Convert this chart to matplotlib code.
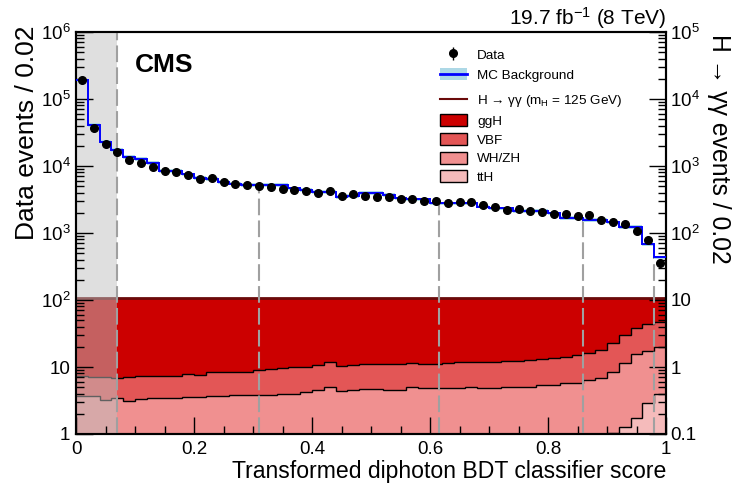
import numpy as np
import matplotlib
matplotlib.use('Agg')
import matplotlib.pyplot as plt
from matplotlib.patches import Patch
from matplotlib.lines import Line2D
from matplotlib.legend_handler import HandlerTuple
from matplotlib.ticker import MultipleLocator, FuncFormatter, NullFormatter, LogLocator, FixedLocator

plt.rcParams['font.family'] = ['Liberation Sans', 'DejaVu Sans']
plt.rcParams['mathtext.fontset'] = 'custom'
plt.rcParams['mathtext.rm'] = 'Liberation Sans'
plt.rcParams['mathtext.it'] = 'Liberation Sans:italic'
plt.rcParams['mathtext.bf'] = 'Liberation Sans:bold'

# 50 bins of 0.02 in the transformed BDT score
edges = np.linspace(0, 1, 51)
centers = 0.5 * (edges[1:] + edges[:-1])

# data events / 0.02 (left axis)
data = [1.9e5, 3.73e4, 2.13e4, 1.62e4, 1.23e4, 1.12e4, 9.8e3, 8.5e3, 8.06e3, 7.26e3,
        6.4e3, 6.55e3, 5.83e3, 5.45e3, 5.15e3, 5.08e3, 4.9e3, 4.54e3, 4.34e3, 4.24e3,
        3.92e3, 4.28e3, 3.6e3, 3.78e3, 3.6e3, 3.45e3, 3.45e3, 3.22e3, 3.25e3, 3.03e3,
        3.03e3, 2.83e3, 2.87e3, 2.93e3, 2.62e3, 2.42e3, 2.23e3, 2.26e3, 2.13e3, 2.08e3,
        1.92e3, 1.9e3, 1.77e3, 1.84e3, 1.58e3, 1.46e3, 1.36e3, 1.06e3, 790, 357]

# MC background / 0.02 (left axis)
mc_bkg = [1.9e5, 4.1e4, 2.3e4, 1.73e4, 1.36e4, 1.28e4, 1.12e4, 8.5e3, 8.5e3, 7.5e3,
          6.6e3, 6.4e3, 5.8e3, 5.45e3, 5.2e3, 5.2e3, 5.2e3, 5.2e3, 4.65e3, 4.38e3,
          4.09e3, 4.09e3, 3.48e3, 3.6e3, 3.99e3, 3.99e3, 3.69e3, 3.3e3, 3.19e3, 3.19e3,
          2.77e3, 2.77e3, 2.77e3, 2.77e3, 2.47e3, 2.33e3, 2.33e3, 2.13e3, 2.13e3, 2.13e3,
          1.97e3, 1.69e3, 1.69e3, 1.56e3, 1.56e3, 1.44e3, 1.24e3, 1.24e3, 678, 434]
mc_rel_unc = 0.06

# H->gg signal, stacked levels in events / 0.02 (right axis)
stack_tth = [0.02, 0.02, 0.02, 0.02, 0.02, 0.02, 0.02, 0.02, 0.02, 0.02,
             0.02, 0.02, 0.02, 0.02, 0.02, 0.02, 0.02, 0.02, 0.02, 0.02,
             0.02, 0.02, 0.02, 0.02, 0.02, 0.03, 0.03, 0.03, 0.03, 0.03,
             0.03, 0.03, 0.03, 0.03, 0.04, 0.04, 0.04, 0.04, 0.05, 0.05,
             0.05, 0.06, 0.06, 0.07, 0.08, 0.102, 0.129, 0.175, 0.287, 0.40]
stack_vh = [0.37, 0.37, 0.32, 0.34, 0.31, 0.333, 0.34, 0.34, 0.34, 0.36,
            0.36, 0.37, 0.37, 0.38, 0.38, 0.38, 0.38, 0.40, 0.40, 0.43,
            0.45, 0.51, 0.44, 0.45, 0.47, 0.47, 0.46, 0.46, 0.51, 0.49,
            0.49, 0.48, 0.49, 0.50, 0.49, 0.49, 0.50, 0.51, 0.51, 0.54,
            0.54, 0.57, 0.58, 0.64, 0.68, 0.85, 1.15, 1.55, 1.75, 2.0]
stack_vbf = [0.73, 0.72, 0.70, 0.68, 0.70, 0.73, 0.73, 0.73, 0.73, 0.79,
             0.75, 0.85, 0.85, 0.83, 0.85, 0.89, 0.92, 0.98, 1.0, 1.01,
             1.06, 1.19, 1.04, 1.08, 1.11, 1.11, 1.12, 1.12, 1.14, 1.12,
             1.12, 1.16, 1.18, 1.17, 1.17, 1.19, 1.21, 1.23, 1.26, 1.30,
             1.35, 1.41, 1.50, 1.60, 1.80, 2.3, 3.0, 3.8, 4.4, 4.7]
stack_ggh = [10.6, 10.6, 10.6, 10.6, 10.6, 10.6, 10.6, 10.6, 10.6, 10.6,
             10.6, 10.6, 10.6, 10.6, 10.6, 10.6, 10.6, 10.6, 10.6, 10.6,
             10.6, 10.6, 10.6, 10.6, 10.6, 10.6, 10.6, 10.6, 10.6, 10.6,
             10.6, 10.6, 10.6, 10.6, 10.6, 10.6, 10.6, 10.6, 10.6, 10.6,
             10.6, 10.6, 10.6, 10.6, 10.6, 10.6, 10.6, 10.6, 10.6, 10.6]

# category boundaries
cuts = [0.07, 0.31, 0.615, 0.86, 0.98]

# axis ranges / tick positions
left_ticks = [1, 10, 1e2, 1e3, 1e4, 1e5, 1e6]
right_ticks = [0.1, 1, 10, 1e2, 1e3, 1e4, 1e5]

data = np.array(data)
mc_bkg = np.array(mc_bkg)

fig = plt.figure(figsize=(7.32, 4.83), dpi=100)
ax = fig.add_axes([76/732, 1 - 434/483, 590/732, 402/483])
twin = ax.twinx()
ax.set_zorder(twin.get_zorder() + 1)
ax.patch.set_visible(False)

# signal stack on the right axis
c_ggh, c_vbf, c_vh, c_tth = '#cc0000', '#e35656', '#f09090', '#f5bbbb'
twin.stairs(stack_ggh, edges, baseline=stack_vbf, fill=True, color=c_ggh, lw=0)
twin.stairs(stack_vbf, edges, baseline=stack_vh, fill=True, color=c_vbf, lw=0)
twin.stairs(stack_vh, edges, baseline=stack_tth, fill=True, color=c_vh, lw=0)
twin.stairs(stack_tth, edges, baseline=0.01, fill=True, color=c_tth, lw=0)
for s in [stack_vbf, stack_vh, stack_tth]:
    twin.stairs(s, edges, baseline=None, color='k', lw=1)
twin.stairs(stack_ggh, edges, baseline=None, color='#6a0a0a', lw=2)
twin.axvspan(0, cuts[0], color='#c0c0c0', alpha=0.5, lw=0, zorder=5)

twin.set_yscale('log')
twin.set_ylim(right_ticks[0], right_ticks[-1])

# dashed category lines
cut_idx = np.minimum((np.array(cuts) * 50).astype(int), 49)
cut_tops = mc_bkg[cut_idx].copy()
cut_tops[0] = left_ticks[-1]
ax.vlines(cuts, 1, cut_tops, colors='#a0a0a0', linestyles=(0, (8, 2.5)), lw=1.5, zorder=1)

# background and data
ax.stairs(mc_bkg * (1 + mc_rel_unc), edges, baseline=mc_bkg * (1 - mc_rel_unc),
          fill=True, color='lightblue', lw=0, zorder=2)
ax.stairs(mc_bkg, edges, baseline=None, color='blue', lw=1.4, zorder=3)
hdata = ax.errorbar(centers, data, yerr=np.sqrt(data), fmt='o', color='k', ms=5.5,
                    elinewidth=1, capsize=0, zorder=5)

ax.set_xlim(0, 1)
ax.set_yscale('log')
ax.set_ylim(left_ticks[0], left_ticks[-1])

def left_fmt(v, p):
    e = int(round(np.log10(v)))
    return {0: '1', 1: '10'}.get(e, '$10^{%d}$' % e)

def right_fmt(v, p):
    e = int(round(np.log10(v)))
    return {-1: '0.1', 0: '1', 1: '10'}.get(e, '$10^{%d}$' % e)

for a, f, t in [(ax, left_fmt, left_ticks), (twin, right_fmt, right_ticks)]:
    a.yaxis.set_major_locator(FixedLocator(t))
    minors = [m * v for v in t[:-1] for m in range(2, 10)]
    a.yaxis.set_minor_locator(FixedLocator(minors))
    a.yaxis.set_major_formatter(FuncFormatter(f))
    a.yaxis.set_minor_formatter(NullFormatter())

ax.xaxis.set_major_locator(MultipleLocator(0.2))
ax.xaxis.set_minor_locator(MultipleLocator(0.05))
ax.xaxis.set_major_formatter(FuncFormatter(lambda v, p: '%g' % v))

ax.tick_params(axis='y', which='major', direction='in', length=12, width=1,
               labelsize=13.5, pad=4, left=True, right=False)
ax.tick_params(axis='y', which='minor', direction='in', length=6, width=1, right=False)
twin.tick_params(axis='y', which='major', direction='in', length=12, width=1,
                 labelsize=13.5, pad=3)
twin.tick_params(axis='y', which='minor', direction='in', length=6, width=1)
ax.tick_params(axis='x', which='major', direction='in', length=12, width=1,
               labelsize=13.5, pad=5, top=False)
ax.tick_params(axis='x', which='minor', direction='in', length=6, width=1, top=False)

for a in (ax, twin):
    for sp in a.spines.values():
        sp.set_linewidth(1.5)

ax.set_xlabel('Transformed diphoton BDT classifier score', fontsize=16.6, ha='right', va='top')
ax.xaxis.set_label_coords(1.0, -0.064)
ax.set_ylabel('Data events / 0.02', fontsize=19, ha='right', va='bottom', rotation_mode='anchor')
ax.yaxis.set_label_coords(-0.062, 1.017)
twin.set_ylabel('H → γγ events / 0.02', fontsize=17.8, rotation=270, ha='left', va='center',
                rotation_mode='anchor')
twin.yaxis.set_label_coords(1.09, 0.995)

ax.text(0.1, 0.9005, 'CMS', transform=ax.transAxes, fontsize=19, fontweight='bold',
        va='baseline')
ax.text(1.0, 1.017, '19.7 fb$^{-1}$ (8 TeV)', transform=ax.transAxes, fontsize=15,
        ha='right', va='baseline')

# legends
h_mc = (Patch(facecolor='lightblue', edgecolor='none'), Line2D([], [], color='blue', lw=2))
leg1 = fig.legend([hdata, h_mc], ['Data', 'MC Background'], loc='upper left',
                  bbox_to_anchor=(440/732, 1 - 48/483), frameon=False, fontsize=9.7,
                  handlelength=2.0, handleheight=1.0, handletextpad=0.75, labelspacing=0.5,
                  borderpad=0, borderaxespad=0,
                  handler_map={tuple: HandlerTuple(ndivide=1, pad=0)})
sig_handles = [Line2D([], [], color='#6a0a0a', lw=1.5)]
sig_handles += [Patch(facecolor=c, edgecolor='k', lw=1) for c in (c_ggh, c_vbf, c_vh, c_tth)]
leg2 = fig.legend(sig_handles,
                  ['H → γγ (m$_{\\mathregular{H}}$ = 125 GeV)', 'ggH', 'VBF', 'WH/ZH', 'ttH'],
                  loc='upper left', bbox_to_anchor=(440/732, 1 - 93/483), frameon=False,
                  fontsize=9.7, handlelength=2.0, handleheight=1.0, handletextpad=0.75,
                  labelspacing=0.38, borderpad=0, borderaxespad=0)

fig.savefig('out.png', dpi=100)
